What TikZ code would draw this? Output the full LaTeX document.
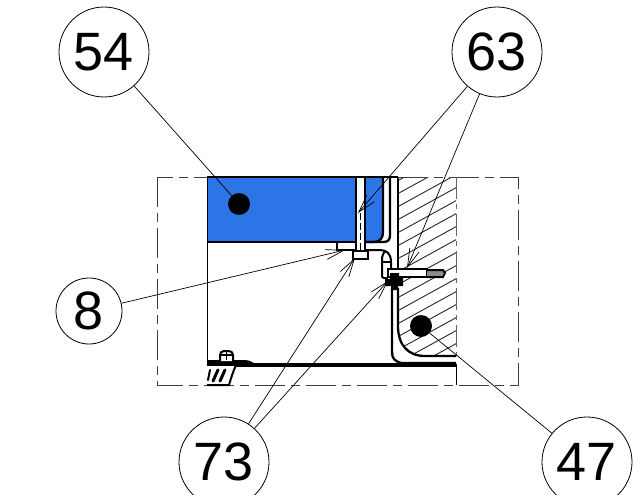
\documentclass[tikz,border=0pt]{standalone}
\usepackage{fontspec}
\setmainfont{Liberation Sans}
\usetikzlibrary{arrows.meta}
\definecolor{panelblue}{RGB}{44,117,230}
\newcommand{\dgt}[1]{\raisebox{-4pt}{#1}}
\tikzset{
  callout/.style={draw=black,line width=0.8pt,circle,fill=white,inner sep=0pt,minimum size=#1,font=\fontsize{54}{54}\selectfont},
  leader/.style={draw=black,line width=0.7pt,-{Straight Barb[length=18pt,width=10pt,line width=0.7pt]}},
  plainleader/.style={draw=black,line width=0.7pt},
  heavy/.style={draw=black,line width=2.3pt},
  medium/.style={draw=black,line width=2pt},
  hatchline/.style={draw=black!85,line width=0.9pt},
  frameline/.style={draw=black!75,line width=1pt,dash pattern=on 30pt off 6pt on 9pt off 6pt},
  marker/.style={circle,fill=black,inner sep=0pt,minimum size=22pt}
}
\begin{document}
\begin{tikzpicture}[x=1pt,y=-1pt]
\useasboundingbox (0,0) rectangle (635,495);
% blue panel
\fill[panelblue] (207,177) -- (383,177) -- (383,232) .. controls (383,238) and (380,242) .. (374,242) -- (207,242) -- cycle;
\fill[white] (357,177) rectangle (365,250);
% hatching
\begin{scope}
\clip (398,177) -- (456,177) -- (456,356) -- (425,356) .. controls (408,356) and (398,345) .. (398,326) -- cycle;
\foreach \k in {0,...,26} {
  \draw[hatchline] (390,{172+13*\k}) -- (470,{172+13*\k-44});
}
\end{scope}
% frame
\draw[frameline] (157,177) rectangle (518,385);
\draw[draw=black,line width=1pt] (207,177) -- (207,385);
\draw[draw=black,line width=1pt] (456,364) -- (456,385);
\draw[draw=black!60,line width=1pt,dash pattern=on 22pt off 5pt on 5pt off 5pt] (456,177) -- (456,356);
% panel outline
\draw[heavy] (383,177) -- (383,232) .. controls (383,238) and (380,242) .. (374,242) -- (365,242);
\draw[heavy] (357,242) -- (207,242);
\draw[medium] (207,177) -- (398,177);
% vertical bolt
\draw[medium] (356,177) -- (356,251);
\draw[medium] (365,177) -- (365,251);
\draw[draw=black,line width=0.6pt,dash pattern=on 7pt off 3pt] (360.5,213) -- (360.5,250);
\draw[medium,fill=white] (353,251) rectangle (368,259);
% plate and bracket upper
\draw[medium] (337,242) -- (337,250) -- (356,250);
\draw[heavy] (390,177) -- (390,235) .. controls (390,240) and (388,242) .. (383,242) -- (365,242);
\draw[heavy] (398,177) -- (398,268);
\draw[medium] (365,250) -- (380,250) .. controls (387,250) and (391,254) .. (391,262) -- (391,269);
\draw[medium,rounded corners=2pt] (385,251) -- (382,256) -- (382,278) -- (388,278);
\draw[medium] (382,262) -- (391,262);
% horizontal bolt
\draw[medium,fill=white] (388,269) rectangle (427,277);
\fill[black!45] (427,271) rectangle (443,276);
\draw[medium] (427,270) -- (443,270) -- (445,273) -- (443,277) -- (427,277);
% black nut
\fill[black] (390,273) -- (399,273) -- (399,278) -- (403,278) -- (403,286) -- (398,286) -- (398,290) -- (391,290) -- (391,286) -- (385,286) -- (385,279) -- (390,279) -- cycle;
% lower bracket
\draw[heavy] (392,288) -- (392,352) .. controls (392,359) and (395,361) .. (401,363) -- (456,363);
\draw[heavy] (398,288) -- (398,326) .. controls (398,345) and (408,356) .. (425,356) -- (456,356);
\draw[draw=black,line width=3.2pt] (207,365) -- (456,365);
% clamp
\fill[white] (207,366) rectangle (236,385);
\fill[black] (207,360) -- (245,360) .. controls (250,360) and (253,363) .. (256,364) -- (207,366) -- cycle;
\draw[medium] (236,365) .. controls (233,372) and (231,378) .. (229,385) -- (207,385);
\draw[medium,fill=white,rounded corners=4pt] (220,361) -- (220,351) -- (233,351) -- (233,361);
\draw[draw=black,line width=1.2pt] (226.5,351) -- (226.5,360) (220,355) -- (233,355);
\foreach \sx in {213,220} {
  \draw[draw=black,line width=3pt,line cap=round] (\sx,381) -- (\sx+5,370);
}
\draw[draw=black,line width=2pt,line cap=round] (208,380) -- (210,370);
% markers
\node[marker] (m54) at (239,204) {};
\node[marker] (m47) at (421,326) {};
% callouts
\node[callout=90pt] (c54) at (104,52) {\dgt{54}};
\node[callout=90pt] (c63) at (497,52) {\dgt{63}};
\node[callout=66pt] (c8) at (89,311) {\dgt{8}};
\node[callout=90pt] (c73) at (224,462) {\dgt{73}};
\node[callout=90pt] (c47) at (587,462) {\dgt{47}};
% targets
\coordinate (t63a) at (358,213);
\coordinate (t63b) at (407,268);
\coordinate (t8) at (345,250);
\coordinate (t73a) at (355,258);
\coordinate (t73b) at (388,281);
% leaders
\draw[plainleader] (c54) -- (m54);
\draw[plainleader] (c47) -- (m47);
\draw[leader] (c63) -- (t63a);
\draw[leader] (c63) -- (t63b);
\draw[leader] (c8) -- (t8);
\draw[leader] (c73) -- (t73a);
\draw[leader] (c73) -- (t73b);
\end{tikzpicture}
\end{document}
